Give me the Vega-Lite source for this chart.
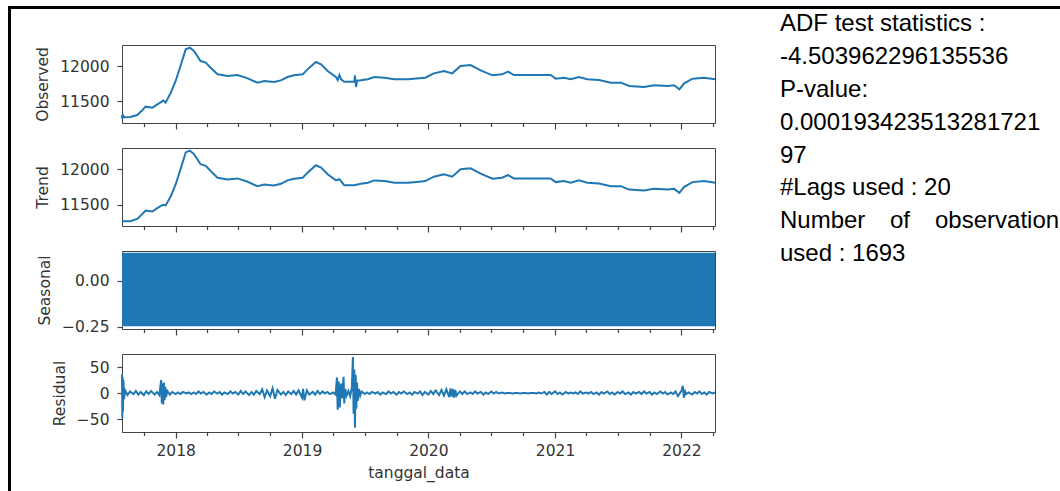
{
"$schema": "https://vega.github.io/schema/vega-lite/v6.json",
"padding": {"left": 6, "top": 4, "right": 0, "bottom": 0},
"background": "white",
"datasets": {
"one": [{"a": 0}],
"obs": [
{"d":"2017-07-30","v":11300},{"d":"2017-07-31","v":11245},{"d":"2017-08-02","v":11295},{"d":"2017-08-05","v":11268},
{"d":"2017-08-23","v":11271},{"d":"2017-09-12","v":11300},{"d":"2017-09-25","v":11360},{"d":"2017-10-06","v":11419},
{"d":"2017-10-26","v":11405},{"d":"2017-11-09","v":11452},{"d":"2017-11-22","v":11490},{"d":"2017-11-26","v":11510},
{"d":"2017-12-03","v":11476},{"d":"2017-12-18","v":11619},{"d":"2018-01-01","v":11786},{"d":"2018-01-15","v":12000},
{"d":"2018-01-30","v":12238},{"d":"2018-02-11","v":12262},{"d":"2018-02-23","v":12214},{"d":"2018-03-14","v":12071},
{"d":"2018-03-29","v":12048},{"d":"2018-04-12","v":11976},{"d":"2018-05-02","v":11881},{"d":"2018-05-31","v":11857},
{"d":"2018-06-29","v":11871},{"d":"2018-07-28","v":11824},{"d":"2018-08-25","v":11762},{"d":"2018-09-14","v":11786},
{"d":"2018-10-12","v":11771},{"d":"2018-11-01","v":11795},{"d":"2018-11-20","v":11843},{"d":"2018-12-09","v":11867},
{"d":"2019-01-03","v":11881},{"d":"2019-01-17","v":11952},{"d":"2019-02-10","v":12057},{"d":"2019-02-25","v":12024},
{"d":"2019-03-16","v":11929},{"d":"2019-04-09","v":11843},{"d":"2019-04-14","v":11800},{"d":"2019-04-19","v":11871},
{"d":"2019-04-24","v":11810},{"d":"2019-05-03","v":11776},{"d":"2019-06-01","v":11776},{"d":"2019-06-03","v":11867},
{"d":"2019-06-06","v":11700},{"d":"2019-06-09","v":11790},{"d":"2019-06-20","v":11795},{"d":"2019-07-10","v":11810},
{"d":"2019-07-29","v":11843},{"d":"2019-08-27","v":11833},{"d":"2019-09-25","v":11810},{"d":"2019-11-03","v":11810},
{"d":"2019-12-06","v":11824},{"d":"2019-12-23","v":11833},{"d":"2020-01-17","v":11895},{"d":"2020-02-15","v":11929},
{"d":"2020-03-10","v":11895},{"d":"2020-04-03","v":12000},{"d":"2020-05-02","v":12014},{"d":"2020-05-31","v":11938},
{"d":"2020-07-04","v":11867},{"d":"2020-08-01","v":11881},{"d":"2020-08-18","v":11919},{"d":"2020-09-04","v":11871},
{"d":"2020-10-13","v":11871},{"d":"2020-12-19","v":11871},{"d":"2021-01-03","v":11819},{"d":"2021-01-27","v":11833},
{"d":"2021-02-15","v":11810},{"d":"2021-03-11","v":11843},{"d":"2021-04-04","v":11810},{"d":"2021-05-08","v":11800},
{"d":"2021-06-11","v":11762},{"d":"2021-07-10","v":11762},{"d":"2021-08-03","v":11714},{"d":"2021-09-15","v":11700},
{"d":"2021-10-14","v":11724},{"d":"2021-11-22","v":11714},{"d":"2021-12-11","v":11724},{"d":"2021-12-26","v":11667},
{"d":"2022-01-09","v":11752},{"d":"2022-02-02","v":11819},{"d":"2022-03-08","v":11833},{"d":"2022-04-08","v":11810}
],
"trend": [
{"d":"2017-07-31","v":11268},{"d":"2017-08-23","v":11268},{"d":"2017-09-12","v":11300},{"d":"2017-09-25","v":11360},
{"d":"2017-10-06","v":11419},{"d":"2017-10-26","v":11405},{"d":"2017-11-09","v":11452},{"d":"2017-11-22","v":11490},
{"d":"2017-11-26","v":11500},{"d":"2017-12-03","v":11490},{"d":"2017-12-18","v":11619},{"d":"2018-01-01","v":11786},
{"d":"2018-01-15","v":12000},{"d":"2018-01-30","v":12238},{"d":"2018-02-11","v":12262},{"d":"2018-02-23","v":12214},
{"d":"2018-03-14","v":12071},{"d":"2018-03-29","v":12048},{"d":"2018-04-12","v":11976},{"d":"2018-05-02","v":11881},
{"d":"2018-05-31","v":11857},{"d":"2018-06-29","v":11871},{"d":"2018-07-28","v":11824},{"d":"2018-08-25","v":11762},
{"d":"2018-09-14","v":11786},{"d":"2018-10-12","v":11771},{"d":"2018-11-01","v":11795},{"d":"2018-11-20","v":11843},
{"d":"2018-12-09","v":11867},{"d":"2019-01-03","v":11881},{"d":"2019-01-17","v":11952},{"d":"2019-02-10","v":12057},
{"d":"2019-02-25","v":12024},{"d":"2019-03-16","v":11929},{"d":"2019-04-09","v":11843},{"d":"2019-04-19","v":11860},
{"d":"2019-05-03","v":11776},{"d":"2019-06-01","v":11776},{"d":"2019-06-20","v":11795},{"d":"2019-07-10","v":11810},
{"d":"2019-07-29","v":11843},{"d":"2019-08-27","v":11833},{"d":"2019-09-25","v":11810},{"d":"2019-11-03","v":11810},
{"d":"2019-12-06","v":11824},{"d":"2019-12-23","v":11833},{"d":"2020-01-17","v":11895},{"d":"2020-02-15","v":11929},
{"d":"2020-03-10","v":11895},{"d":"2020-04-03","v":12000},{"d":"2020-05-02","v":12014},{"d":"2020-05-31","v":11938},
{"d":"2020-07-04","v":11867},{"d":"2020-08-01","v":11881},{"d":"2020-08-18","v":11919},{"d":"2020-09-04","v":11871},
{"d":"2020-10-13","v":11871},{"d":"2020-12-19","v":11871},{"d":"2021-01-03","v":11819},{"d":"2021-01-27","v":11833},
{"d":"2021-02-15","v":11810},{"d":"2021-03-11","v":11843},{"d":"2021-04-04","v":11810},{"d":"2021-05-08","v":11800},
{"d":"2021-06-11","v":11762},{"d":"2021-07-10","v":11762},{"d":"2021-08-03","v":11714},{"d":"2021-09-15","v":11700},
{"d":"2021-10-14","v":11724},{"d":"2021-11-22","v":11714},{"d":"2021-12-11","v":11724},{"d":"2021-12-26","v":11667},
{"d":"2022-01-09","v":11752},{"d":"2022-02-02","v":11819},{"d":"2022-03-08","v":11833},{"d":"2022-04-08","v":11810}
],
"seas": [
{"d":"2017-07-30","hi":0.154,"lo":-0.246},{"d":"2022-04-08","hi":0.154,"lo":-0.246}
],
"resid": [
{"d":"2017-07-30","v":36},{"d":"2017-07-31","v":-48},{"d":"2017-08-01","v":30},{"d":"2017-08-02","v":-35},{"d":"2017-08-03","v":25},{"d":"2017-08-05","v":-12},
{"d":"2017-08-08","v":5},{"d":"2017-08-15","v":-4},{"d":"2017-08-22","v":3},{"d":"2017-09-01","v":-2},{"d":"2017-09-08","v":4},{"d":"2017-09-15","v":-3},
{"d":"2017-09-22","v":2},{"d":"2017-10-01","v":-4},{"d":"2017-10-08","v":3},{"d":"2017-10-15","v":-2},{"d":"2017-10-22","v":4},{"d":"2017-11-01","v":-3},
{"d":"2017-11-08","v":2},{"d":"2017-11-15","v":-4},{"d":"2017-11-20","v":25},{"d":"2017-11-22","v":-20},{"d":"2017-11-24","v":18},{"d":"2017-11-26","v":-22},
{"d":"2017-11-28","v":20},{"d":"2017-11-30","v":-14},{"d":"2017-12-02","v":12},{"d":"2017-12-04","v":-8},{"d":"2017-12-08","v":4},{"d":"2017-12-15","v":-3},
{"d":"2017-12-22","v":2},
{"d":"2018-01-01","v":-2},{"d":"2018-01-08","v":1},{"d":"2018-01-15","v":-2},{"d":"2018-01-22","v":2},{"d":"2018-02-01","v":-1},{"d":"2018-02-08","v":1},
{"d":"2018-02-15","v":-2},{"d":"2018-02-22","v":1},{"d":"2018-03-01","v":-2},{"d":"2018-03-08","v":3},{"d":"2018-03-15","v":-1},{"d":"2018-03-22","v":2},
{"d":"2018-04-01","v":-3},{"d":"2018-04-08","v":1},{"d":"2018-04-15","v":-2},{"d":"2018-04-22","v":3},{"d":"2018-05-01","v":-1},{"d":"2018-05-08","v":2},
{"d":"2018-05-15","v":-3},{"d":"2018-05-22","v":1},{"d":"2018-06-01","v":-2},{"d":"2018-06-08","v":3},{"d":"2018-06-15","v":-1},{"d":"2018-06-22","v":2},
{"d":"2018-07-01","v":-3},{"d":"2018-07-08","v":4},{"d":"2018-07-15","v":-2},{"d":"2018-07-22","v":3},{"d":"2018-08-01","v":-4},{"d":"2018-08-08","v":2},
{"d":"2018-08-15","v":-3},{"d":"2018-08-22","v":4},{"d":"2018-09-01","v":-2},{"d":"2018-09-08","v":7},{"d":"2018-09-15","v":-8},{"d":"2018-09-22","v":5},
{"d":"2018-10-01","v":-6},{"d":"2018-10-08","v":9},{"d":"2018-10-15","v":-11},{"d":"2018-10-22","v":6},{"d":"2018-11-01","v":-3},{"d":"2018-11-08","v":2},
{"d":"2018-11-15","v":-4},{"d":"2018-11-22","v":3},{"d":"2018-12-01","v":-2},{"d":"2018-12-08","v":4},{"d":"2018-12-15","v":-3},{"d":"2018-12-22","v":5},
{"d":"2019-01-01","v":-9},{"d":"2019-01-04","v":8},{"d":"2019-01-08","v":-14},{"d":"2019-01-15","v":5},{"d":"2019-01-22","v":-3},{"d":"2019-02-01","v":2},
{"d":"2019-02-08","v":-3},{"d":"2019-02-15","v":4},{"d":"2019-02-22","v":-2},{"d":"2019-03-01","v":3},{"d":"2019-03-08","v":-1},{"d":"2019-03-15","v":2},
{"d":"2019-03-22","v":-2},{"d":"2019-04-01","v":1},{"d":"2019-04-08","v":-3},{"d":"2019-04-12","v":30},{"d":"2019-04-14","v":-32},{"d":"2019-04-17","v":22},
{"d":"2019-04-20","v":-28},{"d":"2019-04-24","v":18},{"d":"2019-04-27","v":-10},{"d":"2019-05-01","v":31},{"d":"2019-05-03","v":-20},{"d":"2019-05-06","v":8},
{"d":"2019-05-10","v":-5},{"d":"2019-05-15","v":4},{"d":"2019-05-20","v":-6},{"d":"2019-05-25","v":10},{"d":"2019-05-28","v":69},{"d":"2019-05-30","v":-40},
{"d":"2019-06-01","v":45},{"d":"2019-06-03","v":-67},{"d":"2019-06-05","v":35},{"d":"2019-06-07","v":-30},{"d":"2019-06-09","v":20},{"d":"2019-06-11","v":-15},
{"d":"2019-06-14","v":8},{"d":"2019-06-18","v":-5},{"d":"2019-06-22","v":3},{"d":"2019-07-01","v":-2},{"d":"2019-07-08","v":1},{"d":"2019-07-15","v":-2},
{"d":"2019-07-22","v":2},{"d":"2019-08-01","v":-1},{"d":"2019-08-08","v":2},{"d":"2019-08-15","v":-3},{"d":"2019-08-22","v":1},{"d":"2019-09-01","v":-2},
{"d":"2019-09-08","v":3},{"d":"2019-09-15","v":-1},{"d":"2019-09-22","v":2},{"d":"2019-10-01","v":-3},{"d":"2019-10-08","v":2},{"d":"2019-10-15","v":-1},
{"d":"2019-10-22","v":3},{"d":"2019-11-01","v":-2},{"d":"2019-11-08","v":1},{"d":"2019-11-15","v":-3},{"d":"2019-11-22","v":2},{"d":"2019-12-01","v":-1},
{"d":"2019-12-08","v":3},{"d":"2019-12-15","v":-4},{"d":"2019-12-22","v":2},
{"d":"2020-01-01","v":-3},{"d":"2020-01-08","v":4},{"d":"2020-01-15","v":-2},{"d":"2020-01-22","v":5},{"d":"2020-02-01","v":-4},{"d":"2020-02-08","v":6},
{"d":"2020-02-15","v":-5},{"d":"2020-02-22","v":7},{"d":"2020-03-01","v":-8},{"d":"2020-03-05","v":9},{"d":"2020-03-08","v":-7},{"d":"2020-03-12","v":8},
{"d":"2020-03-15","v":-9},{"d":"2020-03-19","v":6},{"d":"2020-03-22","v":-5},{"d":"2020-04-01","v":3},{"d":"2020-04-08","v":-2},{"d":"2020-04-15","v":3},
{"d":"2020-04-22","v":-2},{"d":"2020-05-01","v":1},{"d":"2020-05-08","v":-2},{"d":"2020-05-15","v":3},{"d":"2020-05-22","v":-1},{"d":"2020-06-01","v":2},
{"d":"2020-06-08","v":-3},{"d":"2020-06-15","v":1},{"d":"2020-06-22","v":-2},{"d":"2020-07-01","v":3},{"d":"2020-07-08","v":-1},{"d":"2020-07-15","v":2},
{"d":"2020-07-22","v":-1},{"d":"2020-08-01","v":1},{"d":"2020-08-08","v":-1},{"d":"2020-08-15","v":0},{"d":"2020-08-22","v":0},{"d":"2020-09-01","v":-1},
{"d":"2020-09-08","v":0},{"d":"2020-09-15","v":0},{"d":"2020-09-22","v":-1},{"d":"2020-10-01","v":0},{"d":"2020-10-08","v":0},{"d":"2020-10-15","v":-1},
{"d":"2020-10-22","v":0},{"d":"2020-11-01","v":0},{"d":"2020-11-08","v":-1},{"d":"2020-11-15","v":1},{"d":"2020-11-22","v":-1},{"d":"2020-12-01","v":2},
{"d":"2020-12-08","v":-3},{"d":"2020-12-15","v":2},{"d":"2020-12-22","v":-2},
{"d":"2021-01-01","v":3},{"d":"2021-01-08","v":-2},{"d":"2021-01-15","v":1},{"d":"2021-01-22","v":-3},{"d":"2021-02-01","v":2},{"d":"2021-02-08","v":-1},
{"d":"2021-02-15","v":1},{"d":"2021-02-22","v":-1},{"d":"2021-03-01","v":1},{"d":"2021-03-08","v":-2},{"d":"2021-03-15","v":3},{"d":"2021-03-22","v":-1},
{"d":"2021-04-01","v":1},{"d":"2021-04-08","v":-1},{"d":"2021-04-15","v":2},{"d":"2021-04-22","v":-2},{"d":"2021-05-01","v":1},{"d":"2021-05-08","v":-3},
{"d":"2021-05-15","v":2},{"d":"2021-05-22","v":-1},{"d":"2021-06-01","v":3},{"d":"2021-06-08","v":-2},{"d":"2021-06-15","v":1},{"d":"2021-06-22","v":-3},
{"d":"2021-07-01","v":2},{"d":"2021-07-08","v":-1},{"d":"2021-07-15","v":3},{"d":"2021-07-22","v":-2},{"d":"2021-08-01","v":1},{"d":"2021-08-08","v":-3},
{"d":"2021-08-15","v":2},{"d":"2021-08-22","v":-1},{"d":"2021-09-01","v":2},{"d":"2021-09-08","v":-2},{"d":"2021-09-15","v":3},{"d":"2021-09-22","v":-1},
{"d":"2021-10-01","v":2},{"d":"2021-10-08","v":-3},{"d":"2021-10-15","v":1},{"d":"2021-10-22","v":-2},{"d":"2021-11-01","v":3},{"d":"2021-11-08","v":-1},
{"d":"2021-11-15","v":2},{"d":"2021-11-22","v":-3},{"d":"2021-12-01","v":1},{"d":"2021-12-08","v":-2},{"d":"2021-12-15","v":3},{"d":"2021-12-22","v":-6},
{"d":"2022-01-01","v":4},{"d":"2022-01-05","v":14},{"d":"2022-01-08","v":-9},{"d":"2022-01-12","v":3},{"d":"2022-01-15","v":-2},{"d":"2022-01-22","v":1},
{"d":"2022-02-01","v":-3},{"d":"2022-02-08","v":2},{"d":"2022-02-15","v":-1},{"d":"2022-02-22","v":3},{"d":"2022-03-01","v":-2},{"d":"2022-03-08","v":1},
{"d":"2022-03-15","v":-3},{"d":"2022-03-22","v":2},{"d":"2022-04-01","v":-1},{"d":"2022-04-08","v":1}
],
"txt": [
{"i":0,"x":0,"t":"ADF test statistics :"},
{"i":1,"x":0,"t":"-4.503962296135536"},
{"i":2,"x":0,"t":"P-value:"},
{"i":3,"x":0,"t":"0.000193423513281721"},
{"i":4,"x":0,"t":"97"},
{"i":5,"x":0,"t":"#Lags used : 20"},
{"i":6,"x":0,"t":"Number"},
{"i":6,"x":110,"t":"of"},
{"i":6,"x":155,"t":"observation"},
{"i":7,"x":0,"t":"used : 1693"}
]
},
"hconcat": [
{
"width": 3, "height": 500,
"data": {"name": "one"},
"mark": {"type": "point", "opacity": 0},
"encoding": {},
"view": {"stroke": null, "fill": "black"}
},
{
"vconcat": [
{
"width": 1060, "height": 3,
"data": {"name": "one"},
"mark": {"type": "point", "opacity": 0},
"encoding": {},
"view": {"stroke": null, "fill": "black"}
},
{
"concat": [
{
"width": 46, "height": 78,
"data": {"name": "one"},
"mark": {"type": "point", "opacity": 0},
"encoding": {},
"view": {"stroke": null}
},
{
"width": 593, "height": 78,
"data": {"name": "obs"},
"mark": {"type": "line", "color": "#1f77b4", "strokeWidth": 2},
"encoding": {
"x": {"field": "d", "type": "temporal",
"scale": {"type": "utc", "nice": false, "domain": [{"year": 2017, "month": 7, "date": 30, "utc": true}, {"year": 2022, "month": 4, "date": 8, "utc": true}]},
"axis": {"title": null, "labels": false,
"values": [{"year":2017,"month":10,"date":1,"utc":true},{"year":2018,"month":1,"date":1,"utc":true},{"year":2018,"month":4,"date":1,"utc":true},{"year":2018,"month":7,"date":1,"utc":true},{"year":2018,"month":10,"date":1,"utc":true},{"year":2019,"month":1,"date":1,"utc":true},{"year":2019,"month":4,"date":1,"utc":true},{"year":2019,"month":7,"date":1,"utc":true},{"year":2019,"month":10,"date":1,"utc":true},{"year":2020,"month":1,"date":1,"utc":true},{"year":2020,"month":4,"date":1,"utc":true},{"year":2020,"month":7,"date":1,"utc":true},{"year":2020,"month":10,"date":1,"utc":true},{"year":2021,"month":1,"date":1,"utc":true},{"year":2021,"month":4,"date":1,"utc":true},{"year":2021,"month":7,"date":1,"utc":true},{"year":2021,"month":10,"date":1,"utc":true},{"year":2022,"month":1,"date":1,"utc":true},{"year":2022,"month":4,"date":1,"utc":true}],
"tickSize": {"condition": {"test": "utcmonth(datum.value) == 0", "value": 6}, "value": 3.5}}},
"y": {"field": "v", "type": "quantitative",
"scale": {"domain": [11186, 12300], "zero": false, "nice": false},
"axis": {"values": [11500, 12000], "format": "d", "title": "Observed"}}
}
},
{
"width": 282, "height": 78,
"data": {"name": "txt"},
"mark": {"type": "text", "align": "left", "baseline": "middle", "font": "Liberation Sans", "fontSize": 24, "color": "black"},
"encoding": {
"x": {"field": "x", "type": "quantitative", "scale": {"domain": [0, 282], "nice": false, "zero": false}, "axis": null},
"y": {"field": "i", "type": "quantitative", "scale": {"domain": [0.638, 3.009], "reverse": true, "nice": false, "zero": false}, "axis": null},
"text": {"field": "t"}
},
"view": {"stroke": null}
},
{
"width": 1, "height": 1,
"data": {"name": "one"},
"mark": {"type": "point", "opacity": 0},
"encoding": {},
"view": {"stroke": null}
},
{
"width": 593, "height": 78,
"data": {"name": "trend"},
"mark": {"type": "line", "color": "#1f77b4", "strokeWidth": 2},
"encoding": {
"x": {"field": "d", "type": "temporal",
"scale": {"type": "utc", "nice": false, "domain": [{"year": 2017, "month": 7, "date": 30, "utc": true}, {"year": 2022, "month": 4, "date": 8, "utc": true}]},
"axis": {"title": null, "labels": false,
"values": [{"year":2017,"month":10,"date":1,"utc":true},{"year":2018,"month":1,"date":1,"utc":true},{"year":2018,"month":4,"date":1,"utc":true},{"year":2018,"month":7,"date":1,"utc":true},{"year":2018,"month":10,"date":1,"utc":true},{"year":2019,"month":1,"date":1,"utc":true},{"year":2019,"month":4,"date":1,"utc":true},{"year":2019,"month":7,"date":1,"utc":true},{"year":2019,"month":10,"date":1,"utc":true},{"year":2020,"month":1,"date":1,"utc":true},{"year":2020,"month":4,"date":1,"utc":true},{"year":2020,"month":7,"date":1,"utc":true},{"year":2020,"month":10,"date":1,"utc":true},{"year":2021,"month":1,"date":1,"utc":true},{"year":2021,"month":4,"date":1,"utc":true},{"year":2021,"month":7,"date":1,"utc":true},{"year":2021,"month":10,"date":1,"utc":true},{"year":2022,"month":1,"date":1,"utc":true},{"year":2022,"month":4,"date":1,"utc":true}],
"tickSize": {"condition": {"test": "utcmonth(datum.value) == 0", "value": 6}, "value": 3.5}}},
"y": {"field": "v", "type": "quantitative",
"scale": {"domain": [11200, 12300], "zero": false, "nice": false},
"axis": {"values": [11500, 12000], "format": "d", "title": "Trend"}}
}
},
{
"width": 1, "height": 1,
"data": {"name": "one"},
"mark": {"type": "point", "opacity": 0},
"encoding": {},
"view": {"stroke": null}
},
{
"width": 1, "height": 1,
"data": {"name": "one"},
"mark": {"type": "point", "opacity": 0},
"encoding": {},
"view": {"stroke": null}
},
{
"width": 593, "height": 78,
"data": {"name": "seas"},
"mark": {"type": "area", "color": "#1f77b4", "opacity": 1},
"encoding": {
"x": {"field": "d", "type": "temporal",
"scale": {"type": "utc", "nice": false, "domain": [{"year": 2017, "month": 7, "date": 30, "utc": true}, {"year": 2022, "month": 4, "date": 8, "utc": true}]},
"axis": {"title": null, "labels": false,
"values": [{"year":2017,"month":10,"date":1,"utc":true},{"year":2018,"month":1,"date":1,"utc":true},{"year":2018,"month":4,"date":1,"utc":true},{"year":2018,"month":7,"date":1,"utc":true},{"year":2018,"month":10,"date":1,"utc":true},{"year":2019,"month":1,"date":1,"utc":true},{"year":2019,"month":4,"date":1,"utc":true},{"year":2019,"month":7,"date":1,"utc":true},{"year":2019,"month":10,"date":1,"utc":true},{"year":2020,"month":1,"date":1,"utc":true},{"year":2020,"month":4,"date":1,"utc":true},{"year":2020,"month":7,"date":1,"utc":true},{"year":2020,"month":10,"date":1,"utc":true},{"year":2021,"month":1,"date":1,"utc":true},{"year":2021,"month":4,"date":1,"utc":true},{"year":2021,"month":7,"date":1,"utc":true},{"year":2021,"month":10,"date":1,"utc":true},{"year":2022,"month":1,"date":1,"utc":true},{"year":2022,"month":4,"date":1,"utc":true}],
"tickSize": {"condition": {"test": "utcmonth(datum.value) == 0", "value": 6}, "value": 3.5}}},
"y": {"field": "hi", "type": "quantitative",
"scale": {"domain": [-0.261, 0.163], "zero": false, "nice": false},
"axis": {"values": [-0.25, 0], "format": ".2f", "title": "Seasonal"}},
"y2": {"field": "lo"}
}
},
{
"width": 1, "height": 1,
"data": {"name": "one"},
"mark": {"type": "point", "opacity": 0},
"encoding": {},
"view": {"stroke": null}
},
{
"width": 1, "height": 1,
"data": {"name": "one"},
"mark": {"type": "point", "opacity": 0},
"encoding": {},
"view": {"stroke": null}
},
{
"width": 593, "height": 78,
"data": {"name": "resid"},
"mark": {"type": "line", "color": "#1f77b4", "strokeWidth": 2},
"encoding": {
"x": {"field": "d", "type": "temporal",
"scale": {"type": "utc", "nice": false, "domain": [{"year": 2017, "month": 7, "date": 30, "utc": true}, {"year": 2022, "month": 4, "date": 8, "utc": true}]},
"axis": {"title": "tanggal_data", "labelPadding": 5, "titlePadding": 7, "labelOverlap": false,
"labelExpr": "utcmonth(datum.value) == 0 ? utcFormat(datum.value, '%Y') : ''",
"values": [{"year":2017,"month":10,"date":1,"utc":true},{"year":2018,"month":1,"date":1,"utc":true},{"year":2018,"month":4,"date":1,"utc":true},{"year":2018,"month":7,"date":1,"utc":true},{"year":2018,"month":10,"date":1,"utc":true},{"year":2019,"month":1,"date":1,"utc":true},{"year":2019,"month":4,"date":1,"utc":true},{"year":2019,"month":7,"date":1,"utc":true},{"year":2019,"month":10,"date":1,"utc":true},{"year":2020,"month":1,"date":1,"utc":true},{"year":2020,"month":4,"date":1,"utc":true},{"year":2020,"month":7,"date":1,"utc":true},{"year":2020,"month":10,"date":1,"utc":true},{"year":2021,"month":1,"date":1,"utc":true},{"year":2021,"month":4,"date":1,"utc":true},{"year":2021,"month":7,"date":1,"utc":true},{"year":2021,"month":10,"date":1,"utc":true},{"year":2022,"month":1,"date":1,"utc":true},{"year":2022,"month":4,"date":1,"utc":true}],
"tickSize": {"condition": {"test": "utcmonth(datum.value) == 0", "value": 6}, "value": 3.5}}},
"y": {"field": "v", "type": "quantitative",
"scale": {"domain": [-75, 75], "zero": false, "nice": false},
"axis": {"values": [-50, 0, 50], "format": "d", "title": "Residual"}}
}
},
{
"width": 1, "height": 1,
"data": {"name": "one"},
"mark": {"type": "point", "opacity": 0},
"encoding": {},
"view": {"stroke": null}
}
],
"columns": 3,
"spacing": {"row": 25, "column": 65},
"bounds": "flush"
}
],
"spacing": 36,
"bounds": "flush"
}
],
"spacing": 0,
"bounds": "flush",
"config": {
"view": {"stroke": "#444", "strokeWidth": 1},
"axis": {"domain": false, "grid": false, "labelFont": "DejaVu Sans", "labelFontSize": 15.5, "labelColor": "#333",
"titleFont": "DejaVu Sans", "titleFontSize": 15.5, "titleFontWeight": "normal", "titleColor": "#333",
"tickColor": "#444", "tickWidth": 1.2},
"axisY": {"tickSize": 5, "labelPadding": 8, "titlePadding": 9}
}
}
